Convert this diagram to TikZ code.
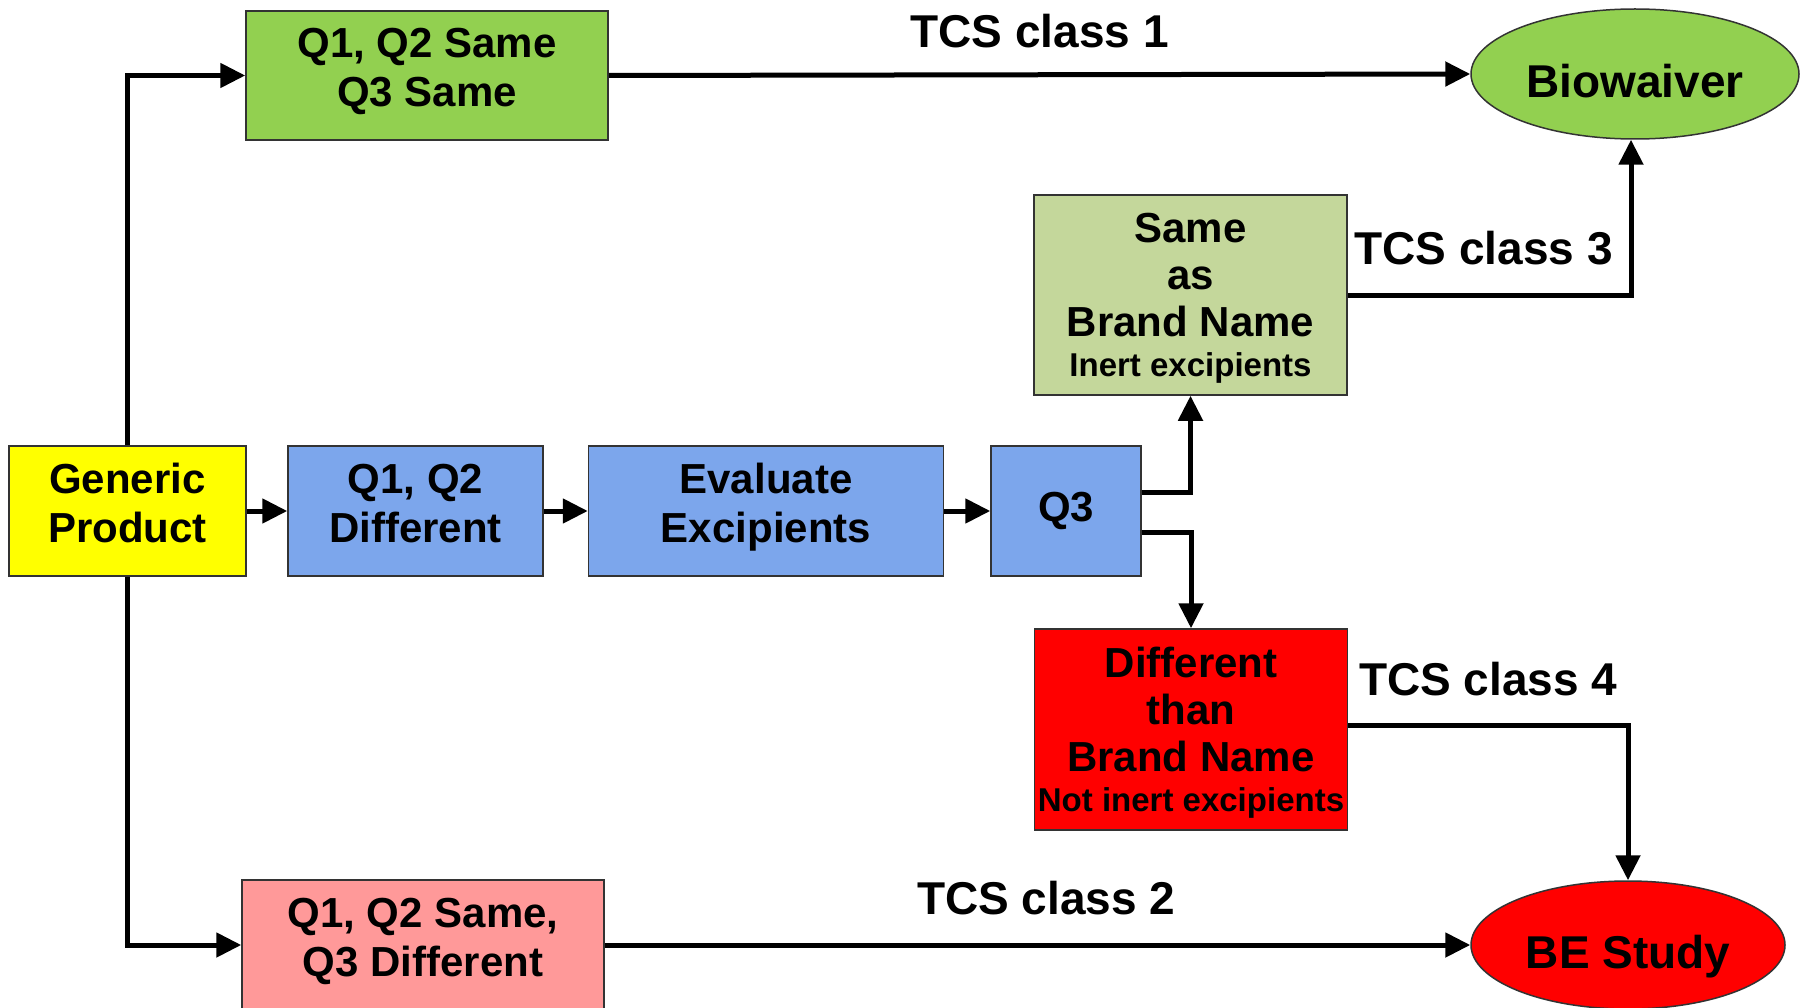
\documentclass[tikz,border=0pt]{standalone}
\usepackage{fontspec}
\setmainfont{Liberation Sans}
\usetikzlibrary{arrows.meta,shapes.geometric}
\definecolor{cgreen}{HTML}{92D050}
\definecolor{colive}{HTML}{C4D79B}
\definecolor{cblue}{HTML}{7CA6EC}
\definecolor{cyellow}{HTML}{FFFF00}
\definecolor{cred}{HTML}{FF0000}
\definecolor{cpink}{HTML}{FF9999}
\newcommand\stk[1]{\begin{tabular}[t]{@{}c@{}}#1\end{tabular}}
\begin{document}
\begin{tikzpicture}[x=1pt,y=-1pt,
  box/.style={draw=black!80, line width=1.5pt, inner sep=0pt,
    font=\bfseries\fontsize{42}{49}\selectfont},
  twoline/.style={text height=34pt, text depth=70pt},
  fourline/.style={font=\bfseries\fontsize{42}{47}\selectfont, text height=33pt, text depth=137pt},
  oval/.style={ellipse, draw=black!80, line width=1.5pt, inner sep=0pt,
    text height=47pt, text depth=0pt,
    font=\bfseries\fontsize{46}{52}\selectfont},
  conn/.style={line width=5pt, -{Triangle[length=25pt,width=24pt]}},
  lbl/.style={font=\bfseries\fontsize{46}{52}\selectfont, anchor=base, inner sep=0pt}]
\useasboundingbox (0,0) rectangle (1806,1008);
\fill[white] (0,0) rectangle (1806,1008);

\node[box, twoline, fill=cyellow, minimum width=237pt, minimum height=130pt] (gp) at (127.5,511) {\stk{Generic\\Product}};
\node[box, twoline, fill=cgreen, minimum width=362pt, minimum height=129pt] (s1) at (427,75.5) {\stk{Q1, Q2 Same\\Q3 Same}};
\node[oval, fill=cgreen, minimum width=328pt, minimum height=130pt] (bw) at (1635,74) {Biowaiver};
\node[box, fourline, fill=colive, minimum width=313pt, minimum height=200pt] (sb) at (1190.5,295)
  {\stk{Same\\as\\Brand Name\\[-7pt]{\fontsize{33}{40}\selectfont Inert excipients}}};
\node[box, twoline, fill=cblue, minimum width=255pt, minimum height=130pt] (d12) at (415.5,511) {\stk{Q1, Q2\\Different}};
\node[box, twoline, fill=cblue, minimum width=355pt, minimum height=130pt] (ev) at (766,511) {\stk{Evaluate\\Excipients}};
\node[box, fill=cblue, minimum width=150pt, minimum height=130pt] (q3) at (1066,511) {Q3};
\node[box, fourline, fill=cred, minimum width=313pt, minimum height=201pt] (db) at (1191,729.5)
  {\stk{Different\\than\\Brand Name\\[-7pt]{\fontsize{33}{40}\selectfont Not inert excipients}}};
\node[box, twoline, fill=cpink, minimum width=362pt, minimum height=130pt] (s2) at (423,945) {\stk{Q1, Q2 Same,\\Q3 Different}};
\node[oval, fill=cred, minimum width=314pt, minimum height=128pt] (be) at (1628,945) {BE Study};

\draw[conn] (gp.north) |- (s1.west);
\draw[conn] (gp.south) |- (s2.west);
\draw[conn] (gp.east) -- (d12.west);
\draw[conn] (d12.east) -- (ev.west);
\draw[conn] (ev.east) -- (q3.west);
\draw[conn] ([yshift=19pt]q3.east) -| (sb.south);
\draw[conn] ([yshift=-21pt]q3.east) -| (db.north);
\draw[conn] (s1.east) -- node[lbl, pos=0.5, yshift=27pt] {TCS class 1} (bw.west);
\draw[conn] (s2.east) -- node[lbl, pos=0.51, yshift=31pt] {TCS class 2} (be.west);
\draw[conn] (sb.east) -| node[lbl, pos=0.24, yshift=30.5pt] {TCS class 3} ([xshift=-4pt]bw.south);
\draw[conn] ([yshift=4pt]db.east) -| node[lbl, pos=0.25, yshift=30pt] {TCS class 4} (be.north);
\end{tikzpicture}
\end{document}
